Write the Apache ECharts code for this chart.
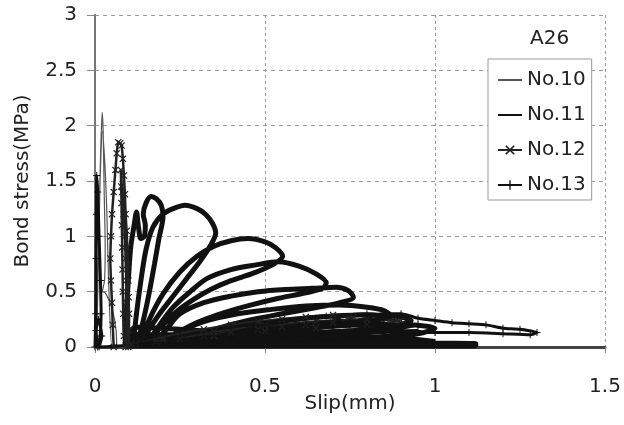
<!DOCTYPE html>
<html>
<head>
<meta charset="utf-8">
<script src="https://cdn.jsdelivr.net/npm/echarts@6/dist/echarts.min.js"></script>
<style>
html,body{margin:0;padding:0;background:#fff;}
#chart{width:624px;height:425px;}
</style>
</head>
<body>
<div id="chart"></div>
<script>
// ---- tick labels / axis ranges ----
const xTicks = [0, 0.5, 1, 1.5];
const yTicks = [0, 0.5, 1, 1.5, 2, 2.5, 3];
const seriesNames = ['No.10', 'No.11', 'No.12', 'No.13'];

// ---- No.10 (thin grey line) : early spike near zero slip ----
const no10a = [[0.000,0.00],[0.006,0.50],[0.012,1.20],[0.017,1.80],[0.021,2.12],[0.024,1.95],[0.027,1.40],[0.030,0.90],[0.028,0.60],[0.022,0.50],[0.030,0.49],[0.040,0.43],[0.052,0.33],[0.062,0.15],[0.064,0.00]];
const no10b = [[0.050,0.00],[0.040,0.60],[0.035,1.20],[0.030,1.60],[0.022,1.95],[0.015,1.50],[0.010,0.80],[0.005,0.00]];

// ---- No.11 (thick black line) : petal loops ----
const loop1 = [[0.088,0.00],[0.092,0.30],[0.098,0.60],[0.105,0.90],[0.115,1.10],[0.122,1.22],[0.128,1.08],[0.135,0.98],[0.145,1.00],[0.148,1.10],[0.142,1.20],[0.150,1.30],[0.165,1.36],[0.180,1.34],[0.195,1.28],[0.200,1.18],[0.188,0.98],[0.175,0.75],[0.160,0.50],[0.145,0.28],[0.130,0.10],[0.118,0.01]];
const loop2 = [[0.112,0.01],[0.122,0.30],[0.135,0.60],[0.150,0.88],[0.170,1.08],[0.200,1.20],[0.230,1.25],[0.265,1.28],[0.300,1.25],[0.325,1.20],[0.345,1.12],[0.355,1.03],[0.340,0.92],[0.310,0.78],[0.270,0.62],[0.230,0.46],[0.190,0.30],[0.155,0.14],[0.130,0.02]];
const loop3 = [[0.130,0.02],[0.160,0.25],[0.200,0.48],[0.250,0.68],[0.300,0.82],[0.350,0.91],[0.400,0.96],[0.450,0.98],[0.500,0.95],[0.530,0.90],[0.552,0.82],[0.520,0.74],[0.460,0.66],[0.400,0.60],[0.340,0.52],[0.290,0.43],[0.240,0.32],[0.200,0.20],[0.165,0.08],[0.150,0.02]];
const loop4 = [[0.150,0.02],[0.190,0.20],[0.230,0.36],[0.280,0.50],[0.330,0.62],[0.400,0.70],[0.470,0.74],[0.540,0.77],[0.600,0.73],[0.650,0.66],[0.680,0.58],[0.670,0.53],[0.620,0.49],[0.540,0.44],[0.460,0.38],[0.380,0.31],[0.300,0.22],[0.230,0.11],[0.180,0.03]];
const loop5 = [[0.170,0.02],[0.210,0.16],[0.250,0.30],[0.320,0.40],[0.400,0.46],[0.480,0.50],[0.560,0.52],[0.640,0.53],[0.710,0.54],[0.745,0.51],[0.760,0.45],[0.720,0.40],[0.640,0.35],[0.550,0.30],[0.450,0.24],[0.350,0.16],[0.270,0.08],[0.200,0.02]];
const loop6 = [[0.190,0.02],[0.250,0.14],[0.320,0.23],[0.420,0.30],[0.520,0.34],[0.620,0.37],[0.720,0.38],[0.800,0.36],[0.850,0.33],[0.870,0.28],[0.820,0.24],[0.720,0.20],[0.600,0.16],[0.480,0.11],[0.350,0.06],[0.230,0.02]];
const loop7 = [[0.210,0.02],[0.300,0.10],[0.400,0.17],[0.520,0.23],[0.650,0.27],[0.780,0.29],[0.880,0.28],[0.930,0.24],[0.880,0.19],[0.760,0.15],[0.620,0.11],[0.480,0.07],[0.340,0.04],[0.240,0.02]];
const loop8 = [[0.240,0.02],[0.350,0.08],[0.480,0.13],[0.620,0.17],[0.780,0.20],[0.920,0.20],[1.000,0.17],[0.950,0.12],[0.820,0.09],[0.650,0.06],[0.480,0.04],[0.300,0.02]];
const band11 = [[0.090,0.01],[0.400,0.01],[0.800,0.01],[1.120,0.01],[1.120,0.03],[0.800,0.035],[0.400,0.04],[0.100,0.05],[0.100,0.08],[0.400,0.07],[0.700,0.065],[1.000,0.05],[0.900,0.08],[0.600,0.10],[0.300,0.11],[0.100,0.12],[0.120,0.18],[0.300,0.15],[0.500,0.14]];

// ---- No.12 (x markers) : second spike and low loops ----
const no12a = [[0.055,0.00],[0.052,0.20],[0.050,0.40],[0.047,0.60],[0.045,0.80],[0.047,1.00],[0.050,1.20],[0.055,1.40],[0.060,1.60],[0.064,1.75],[0.068,1.85],[0.074,1.84],[0.078,1.82],[0.082,1.70],[0.085,1.55],[0.088,1.38],[0.090,1.20],[0.093,1.05],[0.095,0.90],[0.097,0.75],[0.098,0.60],[0.099,0.45],[0.100,0.30],[0.100,0.15],[0.098,0.00],[0.085,0.10],[0.083,0.30],[0.082,0.50],[0.081,0.70],[0.080,0.90],[0.079,1.10],[0.078,1.30],[0.077,1.45],[0.076,1.60],[0.080,1.40],[0.084,1.20],[0.088,1.00],[0.090,0.80],[0.092,0.60],[0.093,0.40],[0.094,0.20],[0.090,0.00]];
const no12b = [[0.110,0.02],[0.180,0.07],[0.250,0.12],[0.320,0.16],[0.400,0.20],[0.480,0.23],[0.550,0.25],[0.620,0.27],[0.700,0.29],[0.760,0.27],[0.700,0.22],[0.620,0.20],[0.550,0.18],[0.480,0.16],[0.400,0.13],[0.320,0.10],[0.250,0.07],[0.180,0.05],[0.120,0.03]];
const no12c = [[0.200,0.06],[0.350,0.14],[0.500,0.19],[0.650,0.23],[0.800,0.25],[0.900,0.24],[0.800,0.20],[0.650,0.17],[0.500,0.14],[0.350,0.10],[0.200,0.08]];

// ---- No.13 (+ markers) : first spike, low loops and long tail ----
const no13a = [[0.000,0.00],[0.002,0.30],[0.003,0.80],[0.004,1.20],[0.005,1.55],[0.008,1.40],[0.012,1.00],[0.016,0.60],[0.018,0.30],[0.015,0.10],[0.008,0.00],[0.003,0.15],[0.010,0.25],[0.020,0.10],[0.012,0.00]];
const no13c = [[0.120,0.02],[0.250,0.10],[0.400,0.18],[0.550,0.24],[0.680,0.28],[0.720,0.25],[0.620,0.20],[0.480,0.15],[0.320,0.09],[0.180,0.04],[0.150,0.03],[0.300,0.08],[0.450,0.13],[0.600,0.17],[0.750,0.20],[0.850,0.22],[0.800,0.17],[0.650,0.13],[0.500,0.10],[0.350,0.06],[0.200,0.04],[0.400,0.09],[0.600,0.12],[0.800,0.14],[0.950,0.15],[0.850,0.10],[0.650,0.08],[0.450,0.06],[0.250,0.04]];
const no13d = [[0.300,0.05],[0.500,0.20],[0.650,0.26],[0.800,0.30],[0.880,0.27],[0.750,0.23],[0.600,0.20],[0.450,0.15],[0.350,0.10],[0.550,0.14],[0.700,0.18],[0.850,0.20],[0.950,0.20],[0.900,0.17],[0.700,0.15],[0.500,0.11],[0.300,0.07]];
const no13b = [[0.300,0.03],[0.450,0.10],[0.600,0.16],[0.750,0.22],[0.850,0.30],[0.900,0.30],[0.950,0.26],[1.000,0.24],[1.050,0.22],[1.100,0.21],[1.150,0.20],[1.200,0.17],[1.250,0.16],[1.300,0.13],[1.280,0.11],[1.200,0.12],[1.100,0.13],[1.000,0.13],[0.900,0.14],[0.800,0.12],[0.650,0.09],[0.500,0.06],[0.350,0.03]];

const no10Data = no10a.concat(no10b);
const no11Data = loop1.concat(loop2, loop3, loop4, loop5, loop6, loop7, loop8, band11);
const no12Data = no12a.concat(no12b, no12c);
const no13Data = no13a.concat(no13c, no13d, no13b);

const FONT = 'DejaVu Sans';
const symX = 'path://M0,1.2L1.2,0L5,3.8L8.8,0L10,1.2L6.2,5L10,8.8L8.8,10L5,6.2L1.2,10L0,8.8L3.8,5Z';
const symPlus = 'path://M4.3,0H5.7V4.3H10V5.7H5.7V10H4.3V5.7H0V4.3H4.3Z';

const chart = echarts.init(document.getElementById('chart'), null, {renderer: 'canvas'});
chart.setOption({
  animation: false,
  backgroundColor: '#fff',
  title: {
    text: 'A26', left: 530, top: 29, padding: 0,
    textStyle: {fontFamily: FONT, fontSize: 20, fontWeight: 'normal', color: '#222'}
  },
  legend: {
    orient: 'vertical', left: 488, top: 59,
    padding: [11, 6, 5, 9], itemGap: 15, itemWidth: 24, itemHeight: 12,
    borderColor: '#999', borderWidth: 1, backgroundColor: '#fff',
    textStyle: {fontFamily: FONT, fontSize: 20, color: '#222'},
    data: [
      {name: seriesNames[0], itemStyle: {opacity: 0}},
      {name: seriesNames[1], itemStyle: {opacity: 0}},
      {name: seriesNames[2]},
      {name: seriesNames[3]}
    ]
  },
  grid: {left: 95, right: 19, top: 15, bottom: 78},
  xAxis: [{
    type: 'value', min: xTicks[0], max: xTicks[xTicks.length - 1], interval: 0.5,
    name: 'Slip(mm)', nameLocation: 'middle', nameGap: 47, nameMoveOverlap: false,
    nameTextStyle: {fontFamily: FONT, fontSize: 20, color: '#222'},
    axisLine: {onZero: false, lineStyle: {color: '#888', width: 2}},
    axisTick: {show: true, length: 6, lineStyle: {color: '#888'}},
    axisLabel: {fontFamily: FONT, fontSize: 20, color: '#222', margin: 30},
    splitLine: {show: true, lineStyle: {color: '#999', type: [3, 3], width: 1}}
  }, {
    type: 'value', position: 'top', min: 0, max: 1.5,
    axisLine: {show: true, lineStyle: {color: '#444', width: 3}},
    axisTick: {show: false}, axisLabel: {show: false}, splitLine: {show: false}
  }],
  yAxis: [{
    type: 'value', min: yTicks[0], max: yTicks[yTicks.length - 1], interval: 0.5,
    name: 'Bond stress(MPa)', nameLocation: 'middle', nameGap: 62, nameMoveOverlap: false,
    nameTextStyle: {fontFamily: FONT, fontSize: 20, color: '#222'},
    axisLine: {show: true, onZero: false, lineStyle: {color: '#888', width: 2}},
    axisTick: {show: true, length: 8, lineStyle: {color: '#888'}},
    axisLabel: {fontFamily: FONT, fontSize: 20, color: '#222', margin: 18},
    splitLine: {show: true, lineStyle: {color: '#999', type: [4, 4], width: 1}}
  }, {
    type: 'value', position: 'right', min: 0, max: 3,
    axisLine: {show: true, lineStyle: {color: '#777', width: 2}},
    axisTick: {show: false}, axisLabel: {show: false}, splitLine: {show: false}
  }],
  series: [
    {name: 'No.10', type: 'line', data: no10Data, showSymbol: false, symbol: 'none',
     lineStyle: {color: '#555', width: 1.2}, itemStyle: {color: '#555'}, smooth: 0.2},
    {name: 'No.11', type: 'line', data: no11Data, showSymbol: false, symbol: 'none',
     lineStyle: {color: '#111', width: 5}, itemStyle: {color: '#111'}, smooth: 0.3},
    {name: 'No.12', type: 'line', data: no12Data, symbol: symX, symbolSize: 7, showAllSymbol: true,
     lineStyle: {color: '#222', width: 2.5}, itemStyle: {color: '#222'}, smooth: 0.2},
    {name: 'No.13', type: 'line', data: no13Data, symbol: symPlus, symbolSize: 7, showAllSymbol: true,
     lineStyle: {color: '#111', width: 3}, itemStyle: {color: '#111'}, smooth: 0.2}
  ]
});
</script>
</body>
</html>
